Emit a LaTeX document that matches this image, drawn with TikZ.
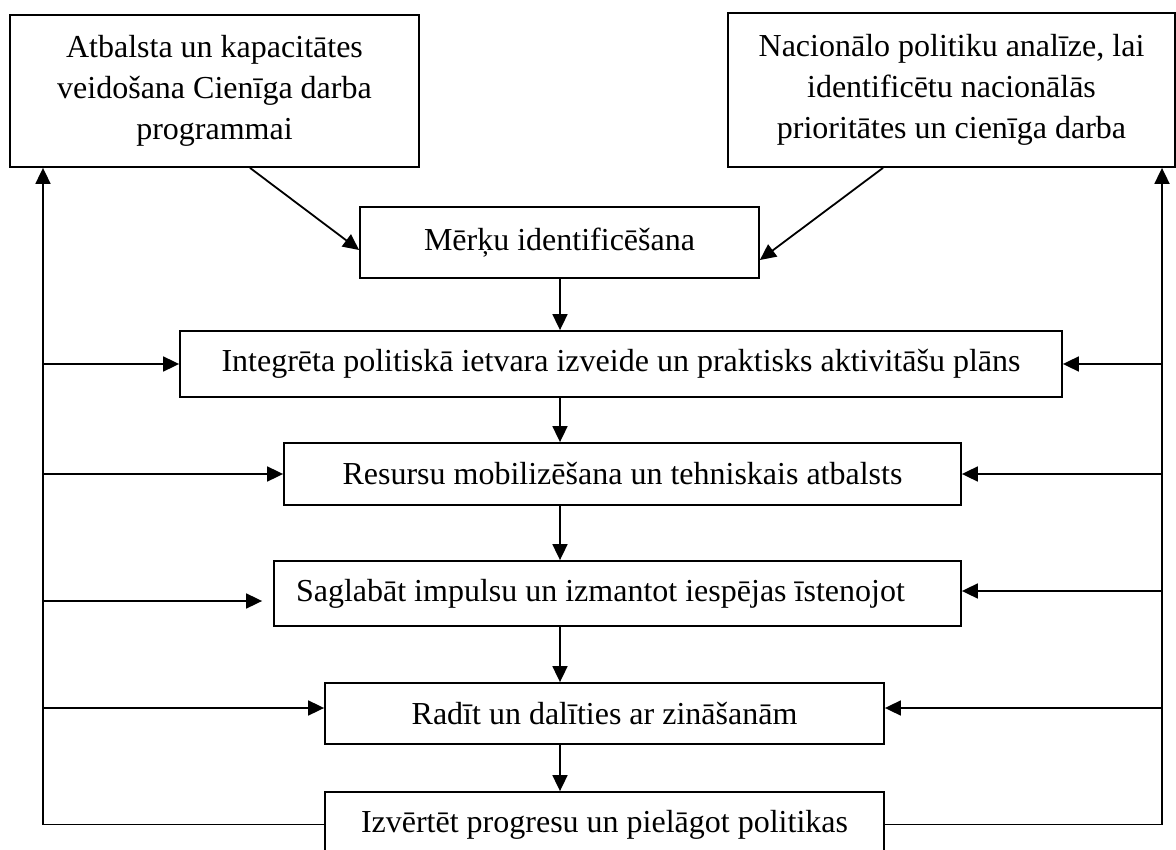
\documentclass[tikz,border=0pt]{standalone}
\usepackage{fontspec}
\setmainfont{Liberation Serif}
\usepackage{tikz}
\usetikzlibrary{arrows.meta,calc}

\tikzset{
  stage/.style={draw, line width=1.8pt, inner sep=0pt, align=center, font=\fontsize{32}{41}\selectfont},
  feed/.style={line width=1.8pt, -{Triangle[length=16pt,width=15pt]}}
}

\begin{document}
\begin{tikzpicture}[x=1pt, y=-1pt]
          \useasboundingbox (0,0) rectangle (1176,850);

          \node[stage, minimum width=409pt, minimum height=152pt] (atb) at (214.5, 91) {Atbalsta un kapacitātes\\veidošana Cienīga darba\\programmai};
          \node[stage, minimum width=447pt, minimum height=154pt] (nac) at (951.5, 90) {Nacionālo politiku analīze, lai\\identificētu nacionālās\\prioritātes un cienīga darba};

          \node[stage, minimum width=399pt, minimum height=71pt] (mer) at (559.5, 242.5) {Mērķu identificēšana};
          \node[stage, minimum width=882pt, minimum height=66pt] (int) at (621, 364) {Integrēta politiskā ietvara izveide un praktisks aktivitāšu plāns};
          \node[stage, minimum width=677pt, minimum height=62pt] (res) at (622.5, 474) {Resursu mobilizēšana un tehniskais atbalsts};
          \node[stage, inner xsep=22pt, minimum height=65pt] (sag) at (617.5, 593.5) {\makebox[643pt][l]{Saglabāt impulsu un izmantot iespējas īstenojot}};
          \node[stage, minimum width=559pt, minimum height=61pt] (rad) at (604.5, 713.5) {Radīt un dalīties ar zināšanām};
          \node[stage, minimum width=559pt, minimum height=65pt] (izv) at (604.5, 824.5) {Izvērtēt progresu un pielāgot politikas};

          \coordinate (col) at (560, 0);
          \coordinate (lft) at (43, 0);
          \coordinate (rgt) at (1162, 0);

          \draw[feed] ($(atb.south)+(35.5,0)$) -- ($(mer.west)+(0,7.5)$);
          \draw[feed] ($(nac.south)+(-68.5,0)$) -- ($(mer.east)+(0,17.5)$);

          \draw[feed] (col |- mer.south) -- (col |- int.north);
          \draw[feed] (col |- int.south) -- (col |- res.north);
          \draw[feed] (col |- res.south) -- (col |- sag.north);
          \draw[feed] (col |- sag.south) -- (col |- rad.north);
          \draw[feed] (col |- rad.south) -- (col |- izv.north);

          \draw[feed] (izv.west) -| (lft |- atb.south);
          \draw[feed] (izv.east) -| (rgt |- nac.south);

          \coordinate (sagl) at ($(sag.west)+(-11,7.5)$);
          \coordinate (sagr) at ($(sag.east)+(0,-2.5)$);
          \coordinate (radl) at ($(rad.west)+(0,-5.5)$);
          \coordinate (radr) at ($(rad.east)+(0,-5.5)$);

          \draw[feed] (lft |- int.west) -- (int.west);
          \draw[feed] (lft |- res.west) -- (res.west);
          \draw[feed] (lft |- sagl) -- (sagl);
          \draw[feed] (lft |- radl) -- (radl);

          \draw[feed] (rgt |- int.east) -- (int.east);
          \draw[feed] (rgt |- res.east) -- (res.east);
          \draw[feed] (rgt |- sagr) -- (sagr);
          \draw[feed] (rgt |- radr) -- (radr);
        \end{tikzpicture}
\end{document}
